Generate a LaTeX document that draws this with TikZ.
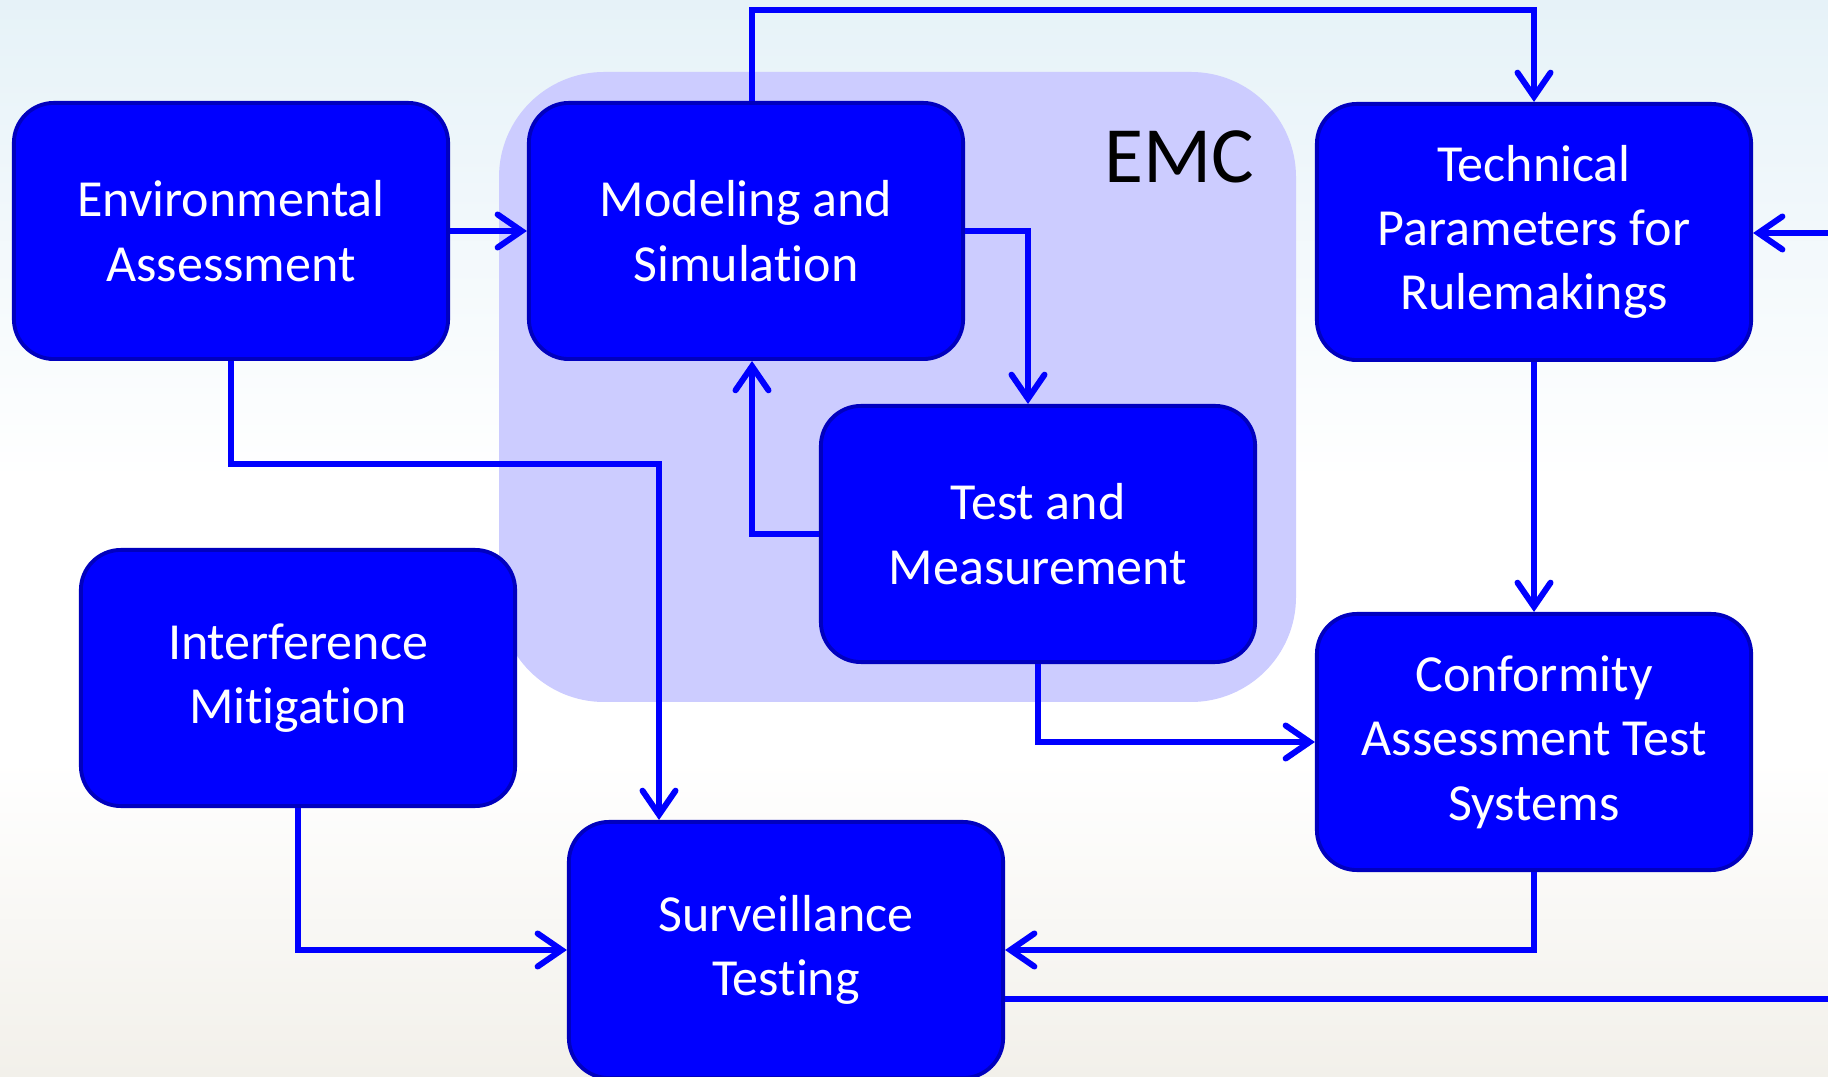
\documentclass[tikz,border=0pt]{standalone}
\usepackage{fontspec}
\setmainfont[RawFeature={-liga;-clig;-calt;-dlig}]{Carlito}
\usetikzlibrary{arrows.meta}

\definecolor{boxblue}{RGB}{0,0,255}
\definecolor{boxedge}{RGB}{0,0,190}
\definecolor{emcfill}{RGB}{204,204,255}
\definecolor{bgtop}{RGB}{230,242,248}
\definecolor{bgbottom}{RGB}{242,240,234}

\begin{document}
\begin{tikzpicture}[x=0.01cm,y=-0.01cm,
                    main node/.style={rectangle,rounded corners=0.4cm,draw=boxedge,line width=1.1pt,
                                      fill=boxblue,text=white,align=center,
                                      minimum width=4.34cm,minimum height=2.56cm,
                                      font=\fontsize{14.8}{18.3}\selectfont},
                    link/.style={draw=boxblue,line width=0.06cm,
                                 -{Straight Barb[length=2.4mm,width=3.3mm,line cap=round]}},
                    plain link/.style={draw=boxblue,line width=0.06cm}]

        % Background
        \useasboundingbox (0,0) rectangle (1828,1077);
        \clip (0,0) rectangle (1828,1077);
        \fill[white] (0,0) rectangle (1828,1077);
        \shade[top color=bgtop,bottom color=white] (0,0) rectangle (1828,480);
        \shade[top color=white,bottom color=bgbottom] (0,760) rectangle (1828,1077);

        % EMC region
        \fill[emcfill,rounded corners=1.05cm] (499,72) rectangle (1296,702);
        \node[font=\fontsize{22.7}{26}\selectfont] (emc) at (1179,157) {EMC};

        % Define vertices
        \node[main node] (env) at (231,231) {Environmental\\Assessment};
        \node[main node] (model) at (746,231) {Modeling and\\Simulation};
        \node[main node] (tech) at (1534,232) {Technical\\Parameters for\\Rulemakings};
        \node[main node] (test) at (1038,534) {Test and\\Measurement};
        \node[main node] (interf) at (298,678) {Interference\\Mitigation};
        \node[main node] (conf) at (1534,742) {Conformity\\Assessment Test\\Systems};
        \node[main node] (surv) at (786,950) {Surveillance\\Testing};

        \coordinate (bendS) at (659,464);
        \coordinate (inT) at (1828,233);
        \coordinate (outS) at (1828,999);

        % Define edges
        \draw[link] (env.east) -- (model.west);
        \draw[link] ([xshift=0.06cm]model.north) -- ++(0,-91) -| (tech.north);
        \draw[link] (model.east) -| ([xshift=-0.1cm]test.north);
        \draw[link] (test.west) -| ([xshift=0.06cm]model.south);
        \draw[link] (env.south) |- (bendS) -- (bendS |- surv.north);
        \draw[link] (interf.south) |- (surv.west);
        \draw[link] (test.south) |- (conf.west);
        \draw[link] (tech.south) -- (conf.north);
        \draw[link] (conf.south) |- (surv.east);
        \draw[plain link] (surv.east |- outS) -- (outS);
        \draw[link] (inT) -- (tech.east |- inT);
\end{tikzpicture}
\end{document}
